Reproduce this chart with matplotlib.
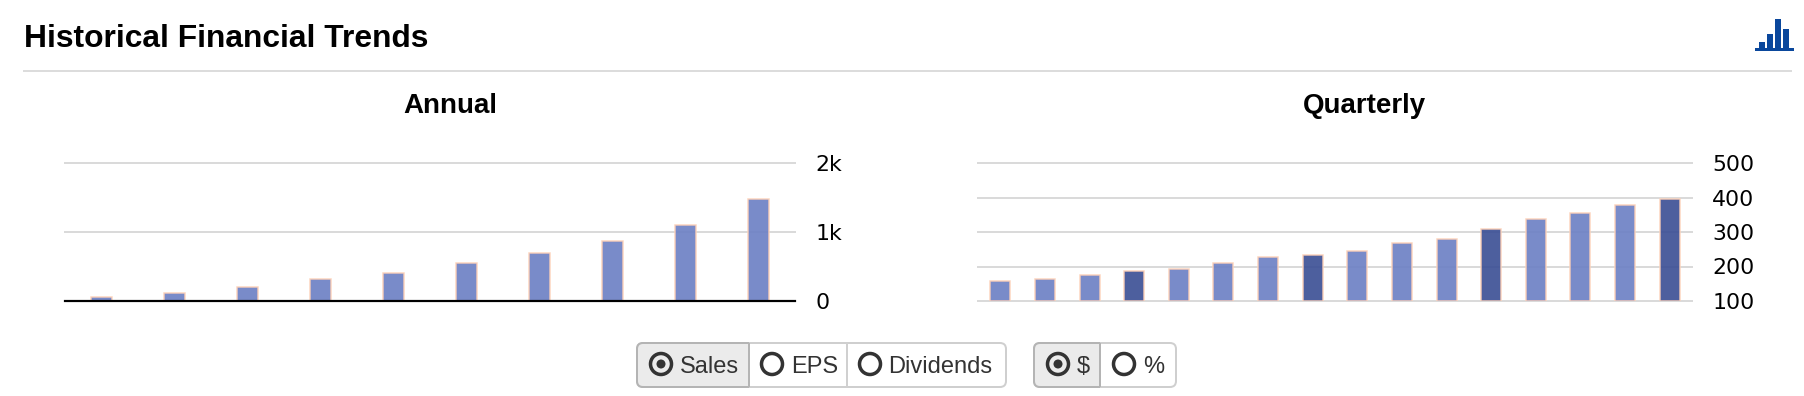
import matplotlib
import matplotlib.pyplot as plt
from matplotlib.patches import Circle, FancyBboxPatch, Rectangle

matplotlib.use("Agg")

W, H = 1804, 396
SANS = ["Liberation Sans", "DejaVu Sans"]

annual_sales = [63, 120, 207, 323, 411, 556, 701, 875, 1106, 1483]
annual_ticks = [0, 1000, 2000]
annual_labels = ["0", "1k", "2k"]

quarterly_sales = [159, 165, 176, 188, 194, 211, 228, 234,
                   246, 269, 281, 310, 339, 356, 379, 397]
quarterly_dark = [3, 7, 11, 15]
quarterly_ticks = [100, 200, 300, 400, 500]

icon_bars = [7, 15, 30, 20]

BAR = "#6b7fc4"
BAR_DARK = "#394d94"
EDGE = "#fdd0b8"
GRID = "#dadada"
px = 0.72  # one pixel in points at dpi 100


def pixel_axes(fig, left, top, right, bottom, **kw):
    return fig.add_axes(
        [left / W, 1 - bottom / H, (right - left) / W, (bottom - top) / H], **kw
    )


def style_chart(ax, ticks, labels, ymin, ymax, n):
    ax.set_xlim(-0.5, n - 0.5)
    ax.set_ylim(ymin, ymax)
    ax.set_xticks([])
    ax.set_yticks(ticks)
    ax.set_yticklabels(labels, fontsize=15.8, color="black", family="DejaVu Sans")
    ax.yaxis.tick_right()
    ax.tick_params(axis="y", length=0, pad=14.5)
    ax.grid(axis="y", color=GRID, linewidth=2 * px, zorder=1)
    ax.set_axisbelow(True)
    ax.patch.set_alpha(0)
    for sp in ax.spines.values():
        sp.set_visible(False)
    for line in ax.get_ygridlines():
        line.set_clip_on(False)


fig = plt.figure(figsize=(W / 100, H / 100), dpi=100, facecolor="white")

# page furniture in pixel coordinates
bg = fig.add_axes([0, 0, 1, 1], zorder=0)
bg.set_xlim(0, W)
bg.set_ylim(H, 0)
bg.axis("off")

bg.text(24, 47, "Historical Financial Trends", fontsize=22.9, fontweight="bold",
        family=SANS, va="baseline", ha="left", color="black")
bg.plot([24, 1791], [71, 71], color="#dcdcdc", linewidth=2 * px)
bg.text(450, 113, "Annual", fontsize=20, fontweight="bold", family=SANS,
        va="baseline", ha="center", color="black")
bg.text(1364, 113, "Quarterly", fontsize=20, fontweight="bold", family=SANS,
        va="baseline", ha="center", color="black")


def button_group(left, right, top, bottom, dividers, selected_right):
    box = dict(boxstyle="round,pad=0,rounding_size=6", linewidth=2 * px)
    bg.add_patch(FancyBboxPatch((left, top), right - left, bottom - top,
                                facecolor="white", edgecolor="#cfcfcf", zorder=2, **box))
    # selected segment: same rounded box, darker, cut at its divider
    sel = FancyBboxPatch((left, top), right - left, bottom - top,
                         facecolor="#ebebeb", edgecolor="#b4b4b4", zorder=2.1, **box)
    bg.add_patch(sel)
    sel.set_clip_path(Rectangle((left - 3, top - 3), selected_right - left + 3, bottom - top + 6,
                                transform=bg.transData))
    for i, d in enumerate(dividers):
        bg.plot([d, d], [top, bottom], linewidth=2 * px, zorder=2.3,
                color="#b4b4b4" if i == 0 else "#d0d0d0", solid_capstyle="butt")


def radio(cx, text, tx, on=False):
    bg.add_patch(Circle((cx, 364), 10.5, facecolor="none", edgecolor="#333333",
                        linewidth=3.5 * px, zorder=3))
    if on:
        bg.add_patch(Circle((cx, 364), 4.5, facecolor="#333333", edgecolor="none", zorder=3))
    bg.text(tx, 373, text, fontsize=17, family=SANS, color="#333333",
            va="baseline", ha="left", zorder=3)


button_group(637, 1006, 343, 387, [749, 847], 749)
radio(661, "Sales", 680, on=True)
radio(772, "EPS", 791)
radio(870, "Dividends", 888)

button_group(1034, 1176, 343, 387, [1100], 1100)
radio(1058, "$", 1077, on=True)
radio(1124, "%", 1143)

# annual chart
ax1 = pixel_axes(fig, 65, 163, 795, 301, zorder=2)
ax1.bar(range(len(annual_sales)), annual_sales, width=0.28, color=BAR, alpha=0.9,
        edgecolor=EDGE, linewidth=1.5 * px, zorder=2)
style_chart(ax1, annual_ticks, annual_labels, 0, 2000, len(annual_sales))
ax1.axhline(0, color="black", linewidth=2.2 * px, zorder=3, clip_on=False)

# quarterly chart
ax2 = pixel_axes(fig, 978, 163, 1692, 301, zorder=2)
colors = [BAR_DARK if i in quarterly_dark else BAR for i in range(len(quarterly_sales))]
ax2.bar(range(len(quarterly_sales)), [v - quarterly_ticks[0] for v in quarterly_sales],
        bottom=quarterly_ticks[0], width=0.45, color=colors, alpha=0.9,
        edgecolor=EDGE, linewidth=1.5 * px, zorder=2)
style_chart(ax2, quarterly_ticks, [str(t) for t in quarterly_ticks], 100, 500,
            len(quarterly_sales))

# chart icon, top right
ax3 = pixel_axes(fig, 1756, 17, 1792, 51, zorder=2)
ax3.bar(range(len(icon_bars)), icon_bars, width=0.84, color="#0a479c", linewidth=0)
ax3.axhline(0, color="#0a479c", linewidth=3 * px, clip_on=False)
ax3.set_xlim(-0.75, len(icon_bars) - 0.25)
ax3.set_ylim(-2, 32)
ax3.axis("off")

fig.savefig("out.png", dpi=100, facecolor="white")
plt.close(fig)
